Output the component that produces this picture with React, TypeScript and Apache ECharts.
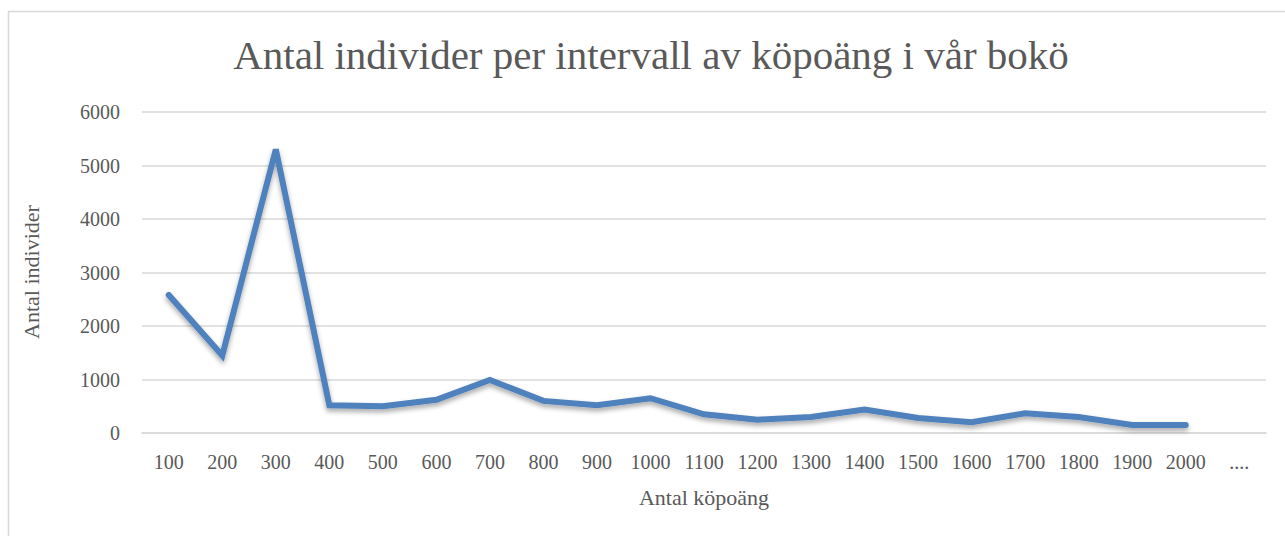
import React, { useEffect, useRef } from "react";
import * as echarts from "echarts";

const categories = ["100","200","300","400","500","600","700","800","900","1000","1100","1200","1300","1400","1500","1600","1700","1800","1900","2000","...."];
const values: (number | null)[] = [2580,1450,5300,520,500,620,990,600,520,650,350,250,300,440,280,200,370,300,150,150,null];
const yTicks = { min: 0, max: 6000, interval: 1000 };
const titleText = "Antal individer per intervall av köpoäng i vår bokö";
const xName = "Antal köpoäng";
const yName = "Antal individer";

const FONT = "'Liberation Serif', 'DejaVu Serif', serif";
const TXT = "#595959";

export default function App() {
  const ref = useRef<HTMLDivElement>(null);
  useEffect(() => {
    if (!ref.current) return;
    const chart = echarts.init(ref.current, undefined, { renderer: "svg" });
    chart.setOption({
      animation: false,
      backgroundColor: "#ffffff",
      graphic: [
        {
          type: "rect",
          shape: { x: 8.5, y: 11.5, width: 1300, height: 600 },
          style: { fill: "none", stroke: "#d9d9d9", lineWidth: 1.5 },
          silent: true,
          z: -10,
        },
        {
          type: "text",
          x: 704,
          y: 497,
          style: { text: xName, font: `22px ${FONT}`, fill: TXT, align: "center", verticalAlign: "middle" },
        },
        {
          type: "text",
          x: 31,
          y: 272,
          rotation: Math.PI / 2,
          style: { text: yName, font: `22px ${FONT}`, fill: TXT, align: "center", verticalAlign: "middle" },
        },
        {
          type: "text",
          x: 651,
          y: 55,
          style: { text: titleText, font: `41px ${FONT}`, fill: TXT, align: "center", verticalAlign: "middle" },
        },
      ],
      grid: { left: 142, right: 19, top: 112, bottom: 103, containLabel: false },
      xAxis: {
        type: "category",
        data: categories,
        boundaryGap: true,
        axisLine: { show: true, lineStyle: { color: "#d9d9d9", width: 1.5 } },
        axisTick: { show: false },
        axisLabel: { fontFamily: FONT, fontSize: 20, color: TXT, margin: 19, interval: 0 },
      },
      yAxis: {
        type: "value",
        min: yTicks.min,
        max: yTicks.max,
        interval: yTicks.interval,
        axisLine: { show: false },
        axisTick: { show: false },
        axisLabel: { fontFamily: FONT, fontSize: 20, color: TXT, margin: 22, formatter: (v: number) => String(v) },
        splitLine: { lineStyle: { color: "#d9d9d9", width: 1.5 } },
      },
      series: [
        {
          type: "line",
          data: values,
          symbol: "none",
          connectNulls: false,
          lineStyle: {
            color: "#4f81bd",
            width: 6,
            cap: "round",
            join: "miter",
            shadowColor: "rgba(0,0,0,0.35)",
            shadowBlur: 5,
            shadowOffsetY: 3,
          },
          itemStyle: { color: "#4f81bd" },
        },
      ],
    });
    return () => chart.dispose();
  }, []);
  return <div ref={ref} style={{ position: "absolute", left: 0, top: 0, width: 1285, height: 536 }} />;
}
